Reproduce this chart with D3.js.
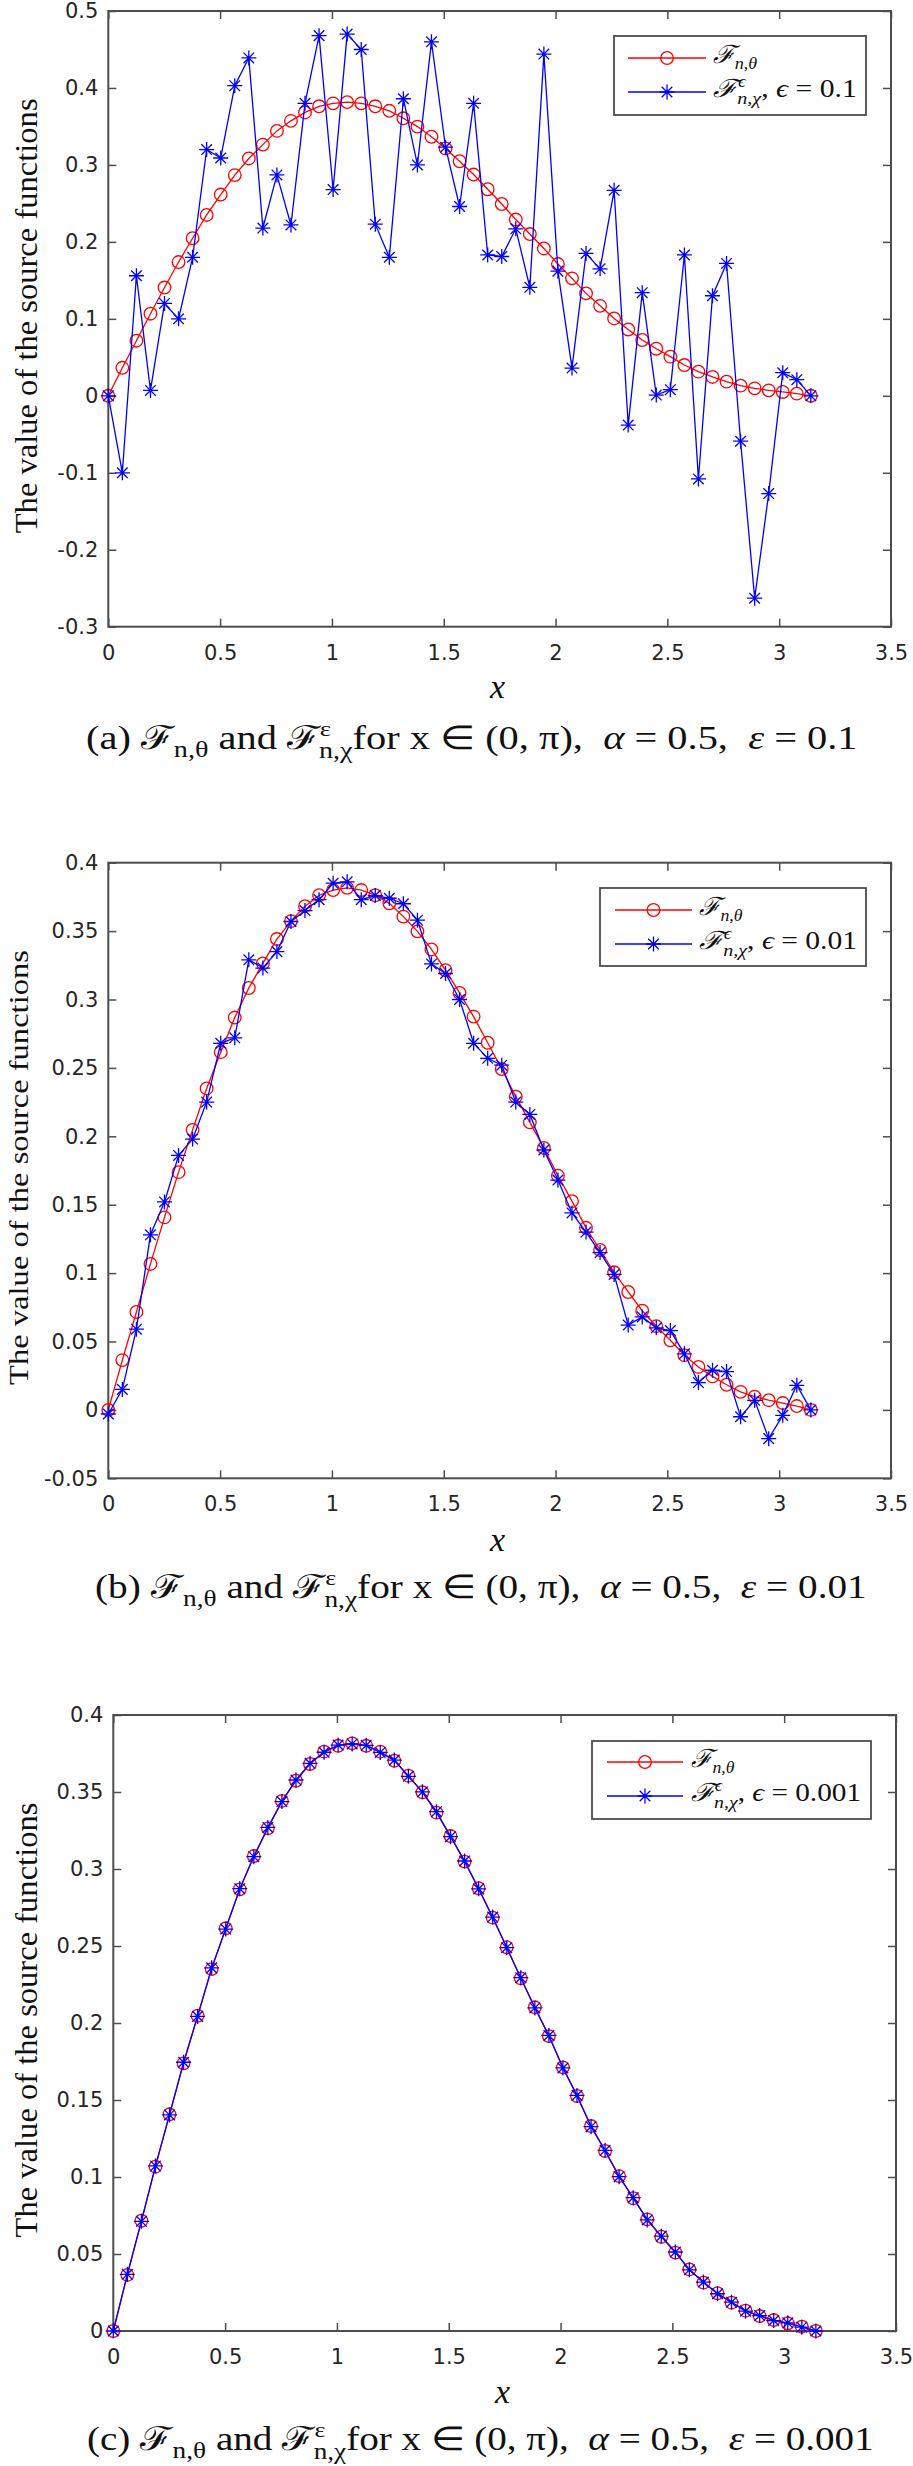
<!DOCTYPE html>
<html><head><meta charset="utf-8">
<script src="https://cdn.jsdelivr.net/npm/d3@7"></script>
<style>body{margin:0;background:#fff} svg{display:block}</style>
</head><body>
<svg id="chart" width="913" height="2466"></svg>
<script>
// ---------- data ----------
const xValues = [0, 0.0628, 0.1257, 0.1885, 0.2513, 0.3142, 0.3770, 0.4398, 0.5027, 0.5655,
  0.6283, 0.6912, 0.7540, 0.8168, 0.8796, 0.9425, 1.0053, 1.0681, 1.1310, 1.1938,
  1.2566, 1.3195, 1.3823, 1.4451, 1.5080, 1.5708, 1.6336, 1.6965, 1.7593, 1.8221,
  1.8850, 1.9478, 2.0106, 2.0735, 2.1363, 2.1991, 2.2619, 2.3248, 2.3876, 2.4504,
  2.5133, 2.5761, 2.6389, 2.7018, 2.7646, 2.8274, 2.8903, 2.9531, 3.0159, 3.0788, 3.1416];

const exactValues = [0, 0.0364, 0.0716, 0.1067, 0.1407, 0.1738, 0.2047, 0.2350, 0.2615, 0.2868,
  0.3084, 0.3264, 0.3442, 0.3573, 0.3682, 0.3762, 0.3800, 0.3816, 0.3800, 0.3762,
  0.3703, 0.3606, 0.3498, 0.3366, 0.3214, 0.3048, 0.2875, 0.2684, 0.2492, 0.2290,
  0.2102, 0.1915, 0.1712, 0.1526, 0.1331, 0.1169, 0.1006, 0.0862, 0.0725, 0.0612,
  0.0509, 0.0400, 0.0314, 0.0245, 0.0184, 0.0132, 0.0097, 0.0071, 0.0050, 0.0028, 0];

const noisyA = [0, -0.100, 0.156, 0.007, 0.120, 0.100, 0.180, 0.320, 0.309, 0.403,
  0.439, 0.218, 0.287, 0.222, 0.380, 0.468, 0.268, 0.470, 0.450, 0.223,
  0.180, 0.386, 0.300, 0.460, 0.323, 0.246, 0.380, 0.183, 0.181, 0.217,
  0.141, 0.444, 0.162, 0.036, 0.185, 0.165, 0.267, -0.038, 0.134, 0.001,
  0.008, 0.183, -0.108, 0.130, 0.172, -0.059, -0.263, -0.127, 0.030, 0.021, 0];

const noisyB = [-0.003, 0.015, 0.059, 0.128, 0.152, 0.186, 0.198, 0.225, 0.268, 0.272,
  0.329, 0.323, 0.335, 0.357, 0.365, 0.373, 0.385, 0.386, 0.373, 0.376,
  0.374, 0.370, 0.358, 0.326, 0.319, 0.300, 0.268, 0.257, 0.252, 0.225,
  0.216, 0.190, 0.168, 0.144, 0.130, 0.115, 0.099, 0.062, 0.068, 0.060,
  0.058, 0.041, 0.020, 0.029, 0.028, -0.005, 0.007, -0.021, -0.004, 0.018, 0];

const noisyC = [0, 0.0368, 0.0712, 0.1072, 0.1403, 0.1745, 0.2043, 0.2358, 0.2610, 0.2872,
  0.3080, 0.3270, 0.3438, 0.3578, 0.3686, 0.3758, 0.3805, 0.3812, 0.3803, 0.3757,
  0.3707, 0.3602, 0.3501, 0.3372, 0.3210, 0.3052, 0.2871, 0.2688, 0.2489, 0.2294,
  0.2098, 0.1919, 0.1708, 0.1530, 0.1327, 0.1173, 0.1002, 0.0866, 0.0721, 0.0616,
  0.0513, 0.0397, 0.0318, 0.0242, 0.0187, 0.0129, 0.0100, 0.0068, 0.0053, 0.0025, 0];

const xTicks = [0, 0.5, 1, 1.5, 2, 2.5, 3, 3.5];
const yTicksA = [-0.3, -0.2, -0.1, 0, 0.1, 0.2, 0.3, 0.4, 0.5];
const yTicksB = [-0.05, 0, 0.05, 0.1, 0.15, 0.2, 0.25, 0.3, 0.35, 0.4];
const yTicksC = [0, 0.05, 0.1, 0.15, 0.2, 0.25, 0.3, 0.35, 0.4];
const epsLabels = ["0.1", "0.01", "0.001"];
const panelLetters = ["a", "b", "c"];
const yAxisTitle = "The value of the source functions";
const xAxisTitle = "x";

// ---------- layout ----------
const layouts = [
  {left:108.3, right:891, top:11, bottom:626.7, yLabBase:37, yLabFont:31, xLabY:698, capX:86, capY:749, capW:773,
   lg:{x0:614, x1:866, y0:36, y1:115, l0:628, l1:706, tx:713, r1:58, r2:92, w1:45, w2:144}},
  {left:108.3, right:891, top:862.7, bottom:1478.3, yLabBase:28, yLabFont:28, xLabY:1551, capX:95, capY:1598, capW:772,
   lg:{x0:600, x1:866, y0:888, y1:966, l0:615, l1:692, tx:699, r1:910, r2:944, w1:44, w2:158}},
  {left:113.3, right:896, top:1715, bottom:2331, yLabBase:37, yLabFont:31, xLabY:2403, capX:87, capY:2450, capW:787,
   lg:{x0:592, x1:871, y0:1741, y1:1819, l0:607, l1:683, tx:691, r1:1762, r2:1796, w1:44, w2:171}}
];
const panelData = [
  {noisy: noisyA, yTicks: yTicksA},
  {noisy: noisyB, yTicks: yTicksB},
  {noisy: noisyC, yTicks: yTicksC}
];

const RED = "#ff0000", BLUE = "#0000ff", AX = "#4d4d4d";
const TICKFONT = "'DejaVu Sans', sans-serif";
const SERIF = "'Liberation Serif', 'Times New Roman', serif";
const SCRIPT_F = "\u2131";

const svg = d3.select("#chart");
const fmt = d => String(+d.toFixed(2));
const starPath = (R => { const D = R * 0.707;
  return `M${-R},0H${R}M0,${-R}V${R}M${-D},${-D}L${D},${D}M${-D},${D}L${D},${-D}`; })(7.5);

function fitWidth(sel, x, y, target) {
  const bb = sel.node().getBBox();
  const s = target / bb.width;
  sel.attr("transform", `translate(${x - bb.x * s},${y}) scale(${s},1)`);
}

layouts.forEach((L, k) => {
  const D = panelData[k];
  const g = svg.append("g");
  const x = d3.scaleLinear().domain([0, 3.5]).range([L.left, L.right]);
  const y = d3.scaleLinear().domain([D.yTicks[0], D.yTicks[D.yTicks.length - 1]]).range([L.bottom, L.top]);

  // axes
  const styleAxis = sel => {
    sel.select(".domain").remove();
    sel.selectAll(".tick line").attr("stroke", AX).attr("stroke-width", 1.5);
    sel.selectAll(".tick text").attr("fill", "#262626").style("font-family", TICKFONT).style("font-size", "21px");
  };
  g.append("g").attr("transform", `translate(0,${L.bottom})`)
    .call(d3.axisBottom(x).tickValues(xTicks).tickFormat(fmt).tickSizeInner(-8).tickSizeOuter(0).tickPadding(18))
    .call(styleAxis);
  g.append("g").attr("transform", `translate(0,${L.top})`)
    .call(d3.axisTop(x).tickValues(xTicks).tickFormat("").tickSizeInner(-8).tickSizeOuter(0))
    .call(styleAxis);
  g.append("g").attr("transform", `translate(${L.left},0)`)
    .call(d3.axisLeft(y).tickValues(D.yTicks).tickFormat(fmt).tickSizeInner(-8).tickSizeOuter(0).tickPadding(10))
    .call(styleAxis);
  g.append("g").attr("transform", `translate(${L.right},0)`)
    .call(d3.axisRight(y).tickValues(D.yTicks).tickFormat("").tickSizeInner(-8).tickSizeOuter(0))
    .call(styleAxis);
  g.append("rect").attr("x", L.left).attr("y", L.top).attr("width", L.right - L.left).attr("height", L.bottom - L.top)
    .attr("fill", "none").attr("stroke", AX).attr("stroke-width", 2);

  // series
  const line = d3.line().x((d, i) => x(xValues[i])).y(d => y(d));
  g.append("path").datum(exactValues).attr("d", line).attr("fill", "none").attr("stroke", RED).attr("stroke-width", 1.3);
  g.selectAll(".circ").data(exactValues).join("circle").attr("class", "circ")
    .attr("cx", (d, i) => x(xValues[i])).attr("cy", d => y(d)).attr("r", 6.3)
    .attr("fill", "none").attr("stroke", RED).attr("stroke-width", 1.3);
  g.append("path").datum(D.noisy).attr("d", line).attr("fill", "none").attr("stroke", BLUE).attr("stroke-width", 1.3);
  g.selectAll(".star").data(D.noisy).join("path").attr("class", "star")
    .attr("transform", (d, i) => `translate(${x(xValues[i])},${y(d)})`).attr("d", starPath)
    .attr("fill", "none").attr("stroke", BLUE).attr("stroke-width", 1.3);

  // legend
  const lg = L.lg;
  g.append("rect").attr("x", lg.x0).attr("y", lg.y0).attr("width", lg.x1 - lg.x0).attr("height", lg.y1 - lg.y0)
    .attr("fill", "#fff").attr("stroke", AX).attr("stroke-width", 1.8);
  g.append("line").attr("x1", lg.l0).attr("x2", lg.l1).attr("y1", lg.r1).attr("y2", lg.r1).attr("stroke", RED).attr("stroke-width", 1.3);
  g.append("circle").attr("cx", (lg.l0 + lg.l1) / 2).attr("cy", lg.r1).attr("r", 6.3).attr("fill", "none").attr("stroke", RED).attr("stroke-width", 1.3);
  g.append("line").attr("x1", lg.l0).attr("x2", lg.l1).attr("y1", lg.r2).attr("y2", lg.r2).attr("stroke", BLUE).attr("stroke-width", 1.3);
  g.append("path").attr("transform", `translate(${(lg.l0 + lg.l1) / 2},${lg.r2})`).attr("d", starPath).attr("fill", "none").attr("stroke", BLUE).attr("stroke-width", 1.3);

  const t1 = g.append("text").style("font-family", SERIF).style("font-size", "25px").attr("fill", "#111");
  t1.append("tspan").style("font-style", "italic").text(SCRIPT_F);
  t1.append("tspan").attr("dy", 6).style("font-size", "17px").style("font-style", "italic").text("n,θ");
  fitWidth(t1, lg.tx, lg.r1 + 5, lg.w1);

  const t2 = g.append("text").style("font-family", SERIF).style("font-size", "25px").attr("fill", "#111").attr("xml:space", "preserve").style("white-space", "pre");
  t2.append("tspan").style("font-style", "italic").text(SCRIPT_F);
  t2.append("tspan").attr("dy", -10).style("font-size", "16px").style("font-style", "italic").text("ϵ");
  t2.append("tspan").attr("dx", -7).attr("dy", 17).style("font-size", "17px").style("font-style", "italic").text("n,χ");
  t2.append("tspan").attr("dy", -7).text(", ");
  t2.append("tspan").style("font-style", "italic").text("ϵ");
  t2.append("tspan").text(" = " + epsLabels[k]);
  fitWidth(t2, lg.tx, lg.r2 + 5, lg.w2);

  // axis titles
  g.append("text").attr("x", (L.left + L.right) / 2 - 2).attr("y", L.xLabY).attr("text-anchor", "middle")
    .style("font-family", SERIF).style("font-style", "italic").style("font-size", "34px").attr("fill", "#111").text(xAxisTitle);
  const yl = g.append("text").attr("text-anchor", "middle").style("font-family", SERIF)
    .style("font-size", L.yLabFont + "px").attr("fill", "#111").text(yAxisTitle);
  {
    const bb = yl.node().getBBox();
    const s = 435 / bb.width;
    const cy = (L.top + L.bottom) / 2 - 3;
    yl.attr("transform", `translate(${L.yLabBase},${cy}) rotate(-90) scale(${s},1)`);
  }

  // caption
  const cap = g.append("text").style("font-family", SERIF).style("font-size", "33px").attr("fill", "#111")
    .attr("xml:space", "preserve").style("white-space", "pre");
  cap.append("tspan").text(`(${panelLetters[k]}) `);
  cap.append("tspan").text(SCRIPT_F);
  cap.append("tspan").attr("dy", 8).style("font-size", "23px").text("n,θ");
  cap.append("tspan").attr("dy", -8).text(" and ");
  cap.append("tspan").text(SCRIPT_F);
  cap.append("tspan").attr("dy", -13).style("font-size", "22px").text("ε");
  cap.append("tspan").attr("dx", -10).attr("dy", 22).style("font-size", "23px").text("n,χ");
  cap.append("tspan").attr("dy", -9).text("for x ∈ (0, π),  ");
  cap.append("tspan").style("font-style", "italic").text("α");
  cap.append("tspan").text(" = 0.5,  ");
  cap.append("tspan").style("font-style", "italic").text("ε");
  cap.append("tspan").text(" = " + epsLabels[k]);
  fitWidth(cap, L.capX, L.capY, L.capW);
});
</script>
</body></html>
